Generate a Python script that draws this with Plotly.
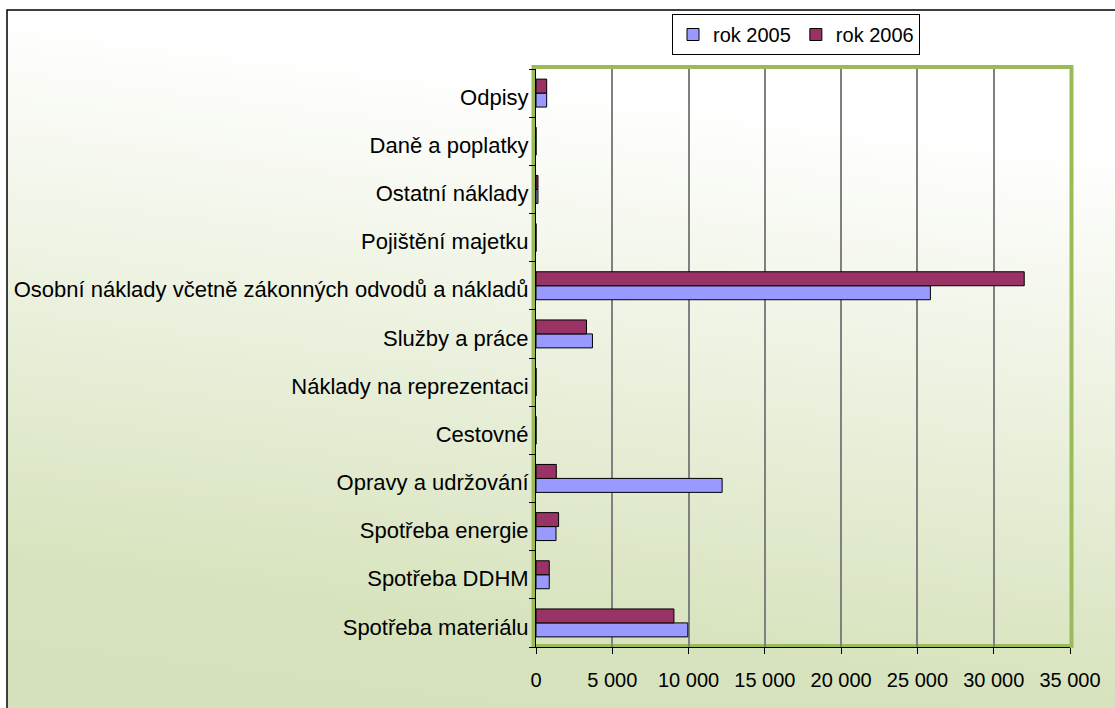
import base64
import plotly.graph_objects as go

categories = [
    "Spotřeba materiálu",
    "Spotřeba DDHM",
    "Spotřeba energie",
    "Opravy a udržování",
    "Cestovné",
    "Náklady na reprezentaci",
    "Služby a práce",
    "Osobní náklady včetně zákonných odvodů a nákladů",
    "Pojištění majetku",
    "Ostatní náklady",
    "Daně a poplatky",
    "Odpisy",
]
rok_2005 = [9950, 870, 1310, 12200, 0, 0, 3700, 25850, 0, 130, 0, 700]
rok_2006 = [9040, 870, 1480, 1330, 0, 0, 3310, 32000, 0, 130, 0, 700]
x_tick_values = [0, 5000, 10000, 15000, 20000, 25000, 30000, 35000]

# layout in pixels
W_FIG, H_FIG = 1115, 708
L, R, T, B = 536, 1070, 69, 647
PW, PH = R - L, B - T


def px_x(p):
    return (p - L) / PW


def px_y(p):
    return (B - p) / PH


FONT = "Liberation Sans, Arial, sans-serif"
C2005 = "#9999FF"
C2006 = "#993366"
GREEN = "#9BBB59"

svg = (
    '<svg xmlns="http://www.w3.org/2000/svg" width="1000" height="1000" preserveAspectRatio="none">'
    '<defs><linearGradient id="g" x1="0.6" y1="0" x2="0.4" y2="1">'
    '<stop offset="0" stop-color="#FFFFFF"/>'
    '<stop offset="0.12" stop-color="#FFFFFF"/>'
    '<stop offset="0.88" stop-color="#D7E3BD"/>'
    '<stop offset="1" stop-color="#D6E2BB"/>'
    '</linearGradient></defs>'
    '<rect width="1000" height="1000" fill="url(#g)"/></svg>'
)
svg_uri = "data:image/svg+xml;base64," + base64.b64encode(svg.encode()).decode()

fig = go.Figure()
fig.add_trace(go.Bar(
    y=categories, x=rok_2005, orientation="h", name="rok 2005",
    marker=dict(color=C2005, line=dict(color="#000000", width=1)),
))
fig.add_trace(go.Bar(
    y=categories, x=rok_2006, orientation="h", name="rok 2006",
    marker=dict(color=C2006, line=dict(color="#000000", width=1)),
))

fig.update_layout(
    width=W_FIG, height=H_FIG,
    margin=dict(l=L, r=W_FIG - R, t=T, b=H_FIG - B, autoexpand=False),
    paper_bgcolor="#FFFFFF",
    plot_bgcolor="#FFFFFF",
    barmode="group",
    bargap=0.42,
    bargroupgap=0,
    separators=", ",
    font=dict(family=FONT, size=20, color="#000000"),
    showlegend=True,
    legend=dict(
        orientation="h",
        x=px_x(672), y=px_y(14), xanchor="left", yanchor="top",
        bgcolor="#FFFFFF", bordercolor="#000000", borderwidth=1,
        font=dict(family=FONT, size=20, color="#000000"),
        traceorder="normal",
        itemwidth=30,
    ),
    xaxis=dict(
        range=[0, 35000],
        tickvals=x_tick_values,
        tickformat=",d",
        tickfont=dict(family=FONT, size=20, color="#000000"),
        showgrid=True, gridcolor="#808080", gridwidth=1.5,
        zeroline=False,
        showline=True, linecolor="#000000", linewidth=1,
        ticks="outside", ticklen=6, tickcolor="#000000",
        ticklabelstandoff=9,
        automargin=False,
        fixedrange=True,
    ),
    yaxis=dict(
        categoryorder="array", categoryarray=categories,
        tickfont=dict(family=FONT, size=22, color="#000000"),
        showgrid=False, zeroline=False,
        showline=True, linecolor="#000000", linewidth=1,
        ticks="outside", ticklen=6, tickcolor="#000000",
        tickson="boundaries",
        ticklabelstandoff=2,
        ticklabelshift=4,
        automargin=False,
        fixedrange=True,
    ),
    images=[dict(
        source=svg_uri, xref="paper", yref="paper",
        x=px_x(8), y=px_y(11),
        sizex=(W_FIG - 8) / PW, sizey=(H_FIG - 11) / PH,
        xanchor="left", yanchor="top", sizing="stretch", layer="below",
    )],
    shapes=[
        dict(type="rect", xref="paper", yref="paper",
             x0=px_x(7), x1=px_x(1125), y0=px_y(720), y1=px_y(10),
             line=dict(color="#000000", width=1.5), fillcolor="rgba(0,0,0,0)", layer="above"),
        dict(type="rect", xref="paper", yref="paper",
             x0=px_x(533.5), x1=px_x(1071.5), y0=px_y(646), y1=px_y(67),
             line=dict(color=GREEN, width=4), fillcolor="rgba(0,0,0,0)", layer="below"),
    ],
)

fig.write_html(
    "out.html",
    config={"displayModeBar": False},
    post_script="document.body.style.margin='0';",
)
